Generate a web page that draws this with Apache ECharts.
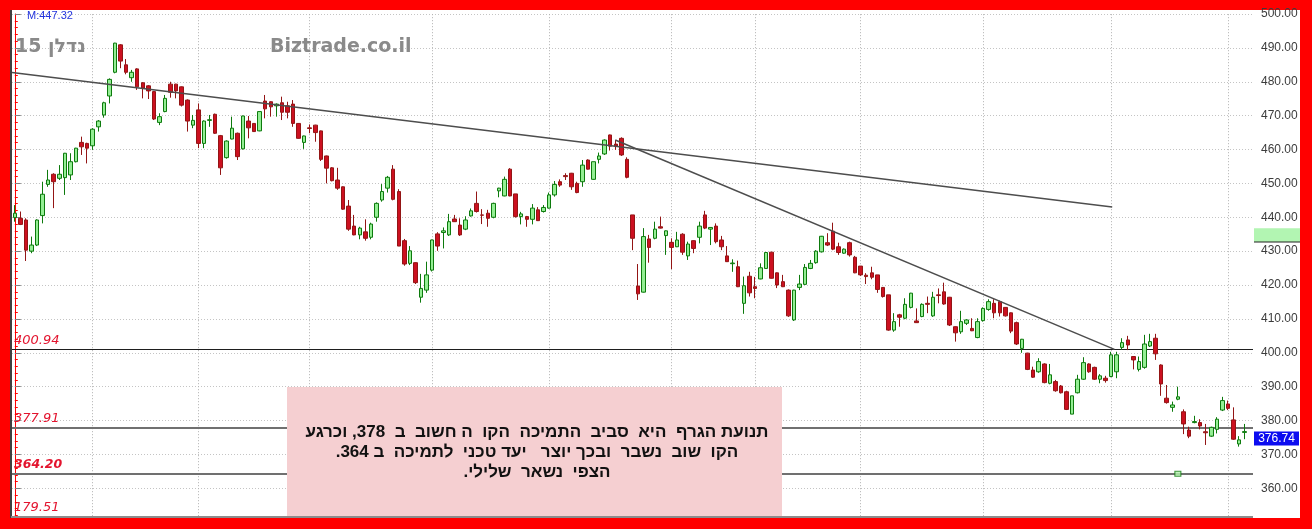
<!DOCTYPE html>
<html>
<head>
<meta charset="utf-8">
<script src="https://cdn.jsdelivr.net/npm/echarts@6/dist/echarts.min.js"></script>
<style>
html,body{margin:0;padding:0;background:#ff0000;}
#c{width:1312px;height:529px;}
</style>
</head>
<body>
<div id="c"></div>
<script>
// ---- data ----
const opens = [439.9,439.7,439.2,430.0,431.8,440.5,449.7,452.7,451.5,451.7,
452.5,456.4,462.1,461.8,461.1,466.7,470.2,475.8,482.8,490.9,
485.0,481.2,483.8,479.7,478.8,477.1,468.0,471.2,479.3,479.3,
478.5,474.6,467.2,471.7,461.8,468.6,470.4,464.1,457.6,463.1,
464.8,460.2,468.4,467.7,465.5,474.3,474.1,472.9,473.8,472.9,
473.4,467.7,462.1,466.4,467.2,465.5,458.1,454.6,451.0,449.0,
443.3,437.4,434.8,435.7,434.1,440.0,445.1,448.6,454.2,447.6,
433.1,426.4,426.6,416.4,418.5,424.4,435.1,435.5,434.8,439.5,
437.7,436.5,440.4,444.1,440.7,441.2,440.0,447.8,446.3,454.2,
446.9,440.2,440.2,439.4,442.2,441.7,442.7,446.6,450.5,452.3,
453.0,450.0,450.5,456.9,451.2,457.1,458.7,464.3,461.6,463.3,
457.1,440.7,419.7,417.9,433.6,433.8,437.2,434.6,432.6,431.3,
435.0,428.6,433.1,434.1,440.7,436.5,437.4,433.3,428.6,426.3,
425.4,414.6,422.6,419.5,421.8,424.9,429.7,423.6,421.0,418.5,
409.7,419.3,420.2,424.9,426.6,429.8,432.5,435.9,431.3,429.4,
432.5,428.2,425.6,422.9,423.6,423.0,419.3,417.1,406.7,411.2,
410.2,413.4,409.4,410.7,414.6,410.9,417.1,418.0,416.4,407.7,
406.2,408.7,407.2,404.5,409.5,412.8,414.6,415.1,413.4,411.8,
408.9,401.3,399.9,394.9,394.4,396.7,391.0,391.5,390.2,388.5,
381.9,388.2,392.2,396.7,395.7,392.2,392.5,393.0,394.4,401.6,
403.8,398.9,395.1,395.7,402.0,404.3,396.4,386.6,383.9,386.3,
382.6,377.2,379.4,379.4,376.7,375.4,377.4,383.1,384.9,380.2,
373.1,376.5];
const closes = [441.2,437.9,430.3,431.8,439.2,446.8,451.0,450.5,452.7,458.9,
456.4,460.4,460.8,460.4,466.0,468.4,473.8,480.7,491.4,486.1,
482.8,482.8,478.5,478.1,477.3,469.0,469.7,475.1,476.9,477.3,
473.1,468.4,468.6,461.8,468.4,468.8,464.8,454.6,462.5,466.3,
457.9,469.9,466.4,465.3,471.2,472.0,472.6,473.4,471.0,471.0,
467.7,463.3,464.0,466.2,465.0,457.1,454.5,450.8,448.6,442.4,
436.5,434.8,436.8,433.8,438.0,444.1,447.6,451.8,445.3,431.5,
426.2,430.1,420.7,419.0,423.0,433.3,431.5,436.0,438.7,438.7,
434.8,439.2,441.9,441.7,440.6,439.7,444.1,448.6,451.2,446.3,
440.2,441.0,439.4,442.7,439.0,442.9,446.6,449.7,449.5,452.0,
449.0,447.3,455.4,454.2,456.4,458.1,462.8,461.0,461.0,458.4,
451.8,433.8,417.4,434.3,431.1,436.5,436.8,436.0,431.1,433.3,
429.7,432.1,430.8,437.4,436.8,437.0,432.8,431.3,426.9,426.5,
419.5,419.8,417.7,419.0,425.1,429.6,422.0,420.0,419.5,410.9,
418.5,420.3,425.2,426.4,430.0,434.4,431.8,430.6,429.6,430.6,
428.9,423.6,423.0,422.5,422.3,418.7,416.6,406.7,409.2,410.5,
414.3,417.6,408.9,414.3,414.3,416.4,416.9,414.4,408.2,405.9,
409.2,409.7,406.5,409.2,413.1,415.1,411.8,411.8,410.9,406.4,
402.6,404.0,395.1,392.8,397.4,391.2,393.5,388.8,388.2,383.3,
387.3,392.2,397.1,394.4,392.2,393.2,391.8,399.4,399.4,403.0,
402.3,397.9,397.4,402.6,403.3,399.7,390.8,385.3,384.6,387.0,
379.0,375.4,379.7,378.4,376.4,378.0,380.4,385.9,383.6,374.5,
374.3,376.74];
const lows = [438.7,437.7,427.1,429.4,431.5,438.2,449.0,442.7,451.0,446.6,
451.0,456.2,458.4,455.9,459.9,465.3,469.4,473.6,482.5,484.0,
482.2,480.0,477.6,475.1,474.9,468.7,467.2,471.0,475.3,475.1,
472.7,465.3,466.3,460.4,460.4,466.7,464.6,452.5,457.3,463.0,
456.9,460.0,463.3,465.2,465.4,469.2,469.7,469.7,468.7,469.2,
466.7,463.2,460.2,464.8,462.3,456.6,450.0,450.6,448.1,442.2,
436.0,434.7,433.5,433.1,433.5,438.7,444.6,447.3,445.0,431.5,
425.7,425.9,420.3,414.8,417.7,424.0,430.1,430.8,434.5,438.6,
434.5,436.2,440.2,441.4,438.0,437.2,439.7,445.9,446.2,446.2,
439.9,437.9,437.2,437.9,438.9,441.4,442.6,446.1,449.0,451.0,
448.1,447.1,449.0,454.1,451.1,455.9,458.4,459.7,459.9,458.1,
451.5,430.3,415.6,417.8,426.6,433.5,436.7,428.9,424.7,431.2,
428.9,427.4,429.4,432.3,436.5,431.8,432.3,430.3,426.8,423.9,
419.4,411.5,416.6,416.1,421.7,424.8,421.9,419.1,419.4,410.6,
409.4,418.5,420.0,424.7,426.3,429.6,431.5,430.3,428.9,429.2,
428.4,423.5,422.7,420.3,421.7,417.7,416.3,406.5,406.2,407.7,
409.9,413.1,408.8,410.5,411.7,410.6,414.6,414.2,407.9,403.3,
405.6,408.2,406.4,404.3,409.2,412.4,410.2,410.7,410.7,405.8,
402.3,400.0,394.9,392.6,394.1,391.0,390.7,388.5,388.0,383.1,
381.9,388.0,392.0,394.1,392.0,391.0,391.2,392.8,392.5,400.9,
400.8,395.1,394.5,395.3,401.7,397.9,387.3,385.0,382.6,386.0,
376.0,374.8,379.2,377.4,372.8,375.2,376.2,382.8,383.1,374.3,
372.3,374.5];
const highs = [443.6,441.7,439.7,434.3,439.4,450.5,454.0,453.0,455.4,459.0,
458.9,460.5,463.8,462.0,466.3,468.7,474.1,481.0,491.5,491.1,
486.7,483.5,484.0,479.9,479.0,477.3,470.7,476.1,480.0,479.4,
478.6,474.8,470.2,473.6,468.6,470.2,470.6,464.3,462.7,469.7,
465.0,470.0,469.9,467.8,471.2,476.1,474.2,473.6,475.6,474.1,
474.6,467.8,464.1,467.4,467.3,465.6,458.2,454.8,454.6,449.1,
445.1,440.7,437.2,439.4,438.4,444.4,449.8,452.2,455.4,448.3,
433.6,431.5,426.7,423.3,426.9,433.4,435.6,437.0,441.0,440.7,
439.7,440.3,442.6,447.6,442.4,442.2,444.3,448.7,452.0,454.5,
446.9,441.6,440.4,443.9,443.0,443.6,447.3,450.7,451.2,453.0,
453.1,450.5,456.9,457.1,456.4,459.1,463.0,464.4,462.8,463.6,
457.7,440.7,426.2,436.8,434.8,438.7,440.2,436.1,433.8,435.7,
435.3,432.8,433.2,438.7,441.9,437.1,438.2,434.5,431.5,427.6,
427.2,422.5,423.9,422.4,426.4,429.6,429.8,423.7,423.0,418.7,
418.6,423.0,426.2,427.4,430.3,434.5,435.3,438.4,432.5,430.8,
432.8,428.6,425.6,423.5,425.4,423.0,419.4,417.1,411.7,411.5,
416.1,417.7,413.1,414.6,416.6,418.0,419.0,420.7,416.5,407.8,
412.4,409.9,410.2,410.2,413.4,415.8,415.8,415.4,413.5,411.9,
409.2,404.1,400.0,395.9,398.4,396.9,396.7,392.0,390.5,388.8,
387.3,393.5,398.7,396.9,395.9,393.7,393.2,400.3,400.3,404.3,
405.0,399.0,398.9,405.3,405.6,405.6,396.6,390.5,385.6,390.0,
383.3,378.2,381.4,380.4,379.0,378.2,381.0,387.0,385.9,383.9,
375.4,379.0];

const levelValues = [400.94, 377.91, 364.20];
const levelLabels = ['400.94', '377.91', '364.20', '179.51'];
const monthLineIdx = [14, 33, 53, 75, 96, 118, 133, 152, 174, 197, 218];
const trendLine1 = [[-0.5, 482.7], [197.2, 443.0]];
const trendLine2 = [[107.9, 462.8], [197.6, 401.0]];
const targetMark = [[209, 364.3]];
const lastPrice = 376.74;
const highlightBand = [432.7, 436.75];
const topInfo = 'M:447.32';
const titleText = '15 נדלן';
const siteText = 'Biztrade.co.il';
const noteLines = [
  'תנועת הגרף  היא  סביב  התמיכה  הקו  ה חשוב  ב  378, וכרגע',
  'הקו  שוב  נשבר  ובכך יוצר   יעד טכני  לתמיכה  ב 364.',
  'הצפי  נשאר  שלילי.'
];
const yMin = 350, yMax = 500, yStep = 10;

// ---- chart ----
const categories = opens.map((_, i) => String(i + 1)).concat(['']);
const nCat = categories.length;
const candleData = opens.map((o, i) => [o, closes[i], lows[i], highs[i]]);

const chart = echarts.init(document.getElementById('c'), null, {renderer: 'canvas', width: 1312, height: 529});

const option = {
  animation: false,
  backgroundColor: '#ff0000',
  grid: {left: 12, right: 59, top: 14, bottom: 6.8},
  xAxis: [
    {type: 'category', data: categories, boundaryGap: true,
     axisLine: {show: false}, axisTick: {show: false}, axisLabel: {show: false}, splitLine: {show: false}},
    {type: 'value', min: -0.5, max: nCat - 0.5, show: false, splitLine: {show: false}}
  ],
  yAxis: {
    type: 'value', position: 'right', min: yMin, max: yMax, interval: yStep,
    axisLine: {show: true, lineStyle: {color: '#ff0000', width: 1}},
    axisTick: {show: true, length: 6, lineStyle: {color: '#808080'}},
    minorTick: {show: true, splitNumber: 5, length: 3, lineStyle: {color: '#ff0000'}},
    axisLabel: {color: '#3c3c3c', fontSize: 12, fontFamily: 'Liberation Sans', margin: 8,
      formatter: v => (v < yMin + yStep / 2 ? '' : v.toFixed(2))},
    splitLine: {show: true, lineStyle: {color: '#c4c4c4', type: [1, 2], width: 1}}
  },
  series: [
    {
      type: 'line', xAxisIndex: 1, data: [], silent: true, z: 1,
      markLine: {
        silent: true, z: 1, symbol: ['none', 'none'], label: {show: false}, precision: 2,
        data: monthLineIdx.map(i => ({xAxis: i, lineStyle: {type: [1, 2], color: '#b0b0b0', width: 1}}))
          .concat([
            {yAxis: levelValues[0], lineStyle: {type: 'solid', color: '#1e1e1e', width: 1.2}},
            {yAxis: levelValues[1], lineStyle: {type: 'solid', color: '#707070', width: 2}},
            {yAxis: levelValues[2], lineStyle: {type: 'solid', color: '#707070', width: 2}}
          ])
      }
    },
    {
      type: 'candlestick', name: 'נדלן 15', xAxisIndex: 0, data: candleData, barWidth: 4, z: 3,
      itemStyle: {color: '#94ee94', color0: '#cc1020', borderColor: '#0d7a0d', borderColor0: '#931515', borderWidth: 1, borderColorDoji: '#555'}
    },
    {type: 'line', xAxisIndex: 1, data: trendLine1, symbol: 'none', silent: true, z: 4,
     lineStyle: {color: '#4d4d4d', width: 1.5}},
    {type: 'line', xAxisIndex: 1, data: trendLine2, symbol: 'none', silent: true, z: 4,
     lineStyle: {color: '#4d4d4d', width: 1.5}},
    {type: 'scatter', xAxisIndex: 1, data: targetMark, symbol: 'rect', symbolSize: [6, 5], z: 5,
     itemStyle: {color: '#b4f4ae', borderColor: '#137a13', borderWidth: 1}}
  ]
};
chart.setOption(option);

// ---- decorations (positions from the axes) ----
const yPix = v => chart.convertToPixel({yAxisIndex: 0}, v);
const plotL = 12, plotR = 1253, plotT = 10, plotB = 517, axisR = 1300;
const bandTop = yPix(highlightBand[1]), bandBot = yPix(highlightBand[0]);
const priceY = yPix(lastPrice);
const redText = '#e3142e';
const els = [
  {type: 'rect', z: -10, silent: true, shape: {x: plotL, y: plotT, width: axisR - plotL, height: plotB - plotT + 1}, style: {fill: '#ffffff'}},
  {type: 'rect', z: 100, silent: true, shape: {x: 0, y: plotB + 1, width: 1312, height: 529 - plotB}, style: {fill: '#ff0000'}},
  {type: 'line', z: 101, silent: true, shape: {x1: plotL - 1, y1: plotT, x2: plotL - 1, y2: plotB + 1}, style: {stroke: '#404040', lineWidth: 2}},
  {type: 'line', z: 101, silent: true, shape: {x1: plotL - 1, y1: plotB, x2: plotR, y2: plotB}, style: {stroke: '#8c8c8c', lineWidth: 2}},
  {type: 'rect', z: 50, silent: true, shape: {x: plotR + 1, y: bandTop, width: axisR - plotR - 1, height: bandBot - bandTop}, style: {fill: '#b2f5b2'}},
  {type: 'line', z: 51, silent: true, shape: {x1: plotR + 1, y1: bandBot, x2: axisR, y2: bandBot}, style: {stroke: '#222', lineWidth: 1}},
  {type: 'rect', z: 50, silent: true, shape: {x: plotR + 1, y: priceY, width: 45, height: 14}, style: {fill: '#0c0cf0'}},
  {type: 'text', z: 51, silent: true, style: {text: lastPrice.toFixed(2), x: plotR + 23.5, y: priceY + 7, align: 'center', verticalAlign: 'middle', fill: '#ffffff', font: '12px "Liberation Sans"'}},
  // note box
  {type: 'rect', z: 20, silent: true, shape: {x: 287, y: 387, width: 495, height: plotB - 387}, style: {fill: '#f5cfd1'}},
  // titles
  {type: 'text', z: 20, silent: true, style: {text: topInfo, x: 27, y: 16, verticalAlign: 'middle', fill: '#2233dd', font: '11px "Liberation Sans"'}},
  {type: 'text', z: 20, silent: true, style: {text: titleText, x: 15, y: 47, verticalAlign: 'middle', fill: '#8a8a8a', font: 'bold 19px "DejaVu Sans"'}},
  {type: 'text', z: 20, silent: true, style: {text: siteText, x: 270, y: 47, verticalAlign: 'middle', fill: '#8a8a8a', font: 'bold 19px "DejaVu Sans"'}}
];
noteLines.forEach((t, k) => {
  els.push({type: 'text', z: 21, silent: true, style: {text: '\u202B' + t + '\u202C', x: 537, y: 432 + k * 20, align: 'center', verticalAlign: 'middle', fill: '#111111', font: 'bold 17px "Liberation Sans"'}});
});
levelLabels.forEach((t, k) => {
  const y = k < levelValues.length ? yPix(levelValues[k]) - 9 : 508;
  els.push({type: 'text', z: 20, silent: true, style: {text: t, x: 14, y: y, verticalAlign: 'middle', fill: redText,
    font: (k === 2 ? 'italic bold 12.5px' : 'italic 13px') + ' "DejaVu Sans"'}});
});
chart.setOption({graphic: {elements: els}});
</script>
</body>
</html>
